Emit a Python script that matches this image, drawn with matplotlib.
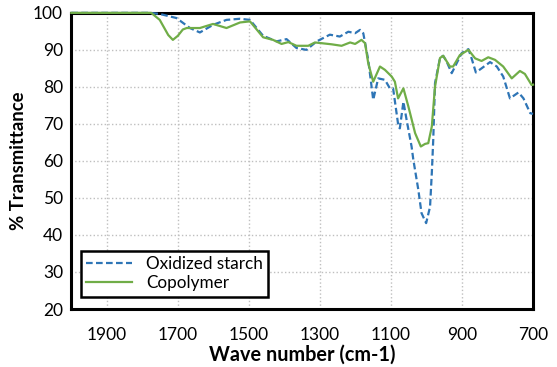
import matplotlib
matplotlib.use('Agg')
import matplotlib.pyplot as plt

plt.rcParams['font.family'] = ['Lato', 'DejaVu Sans']

# oxidized starch (blue dashed)
wn_ox = [2000, 1780, 1751, 1704, 1666, 1638, 1600, 1563, 1525, 1497, 1460, 1422, 1394,
         1366, 1338, 1309, 1272, 1244, 1220, 1201, 1187, 1178, 1164, 1150, 1136, 1117,
         1103, 1094, 1079, 1075, 1065, 1056, 1042, 1037, 1023, 1014, 1001, 990, 985, 981,
         976, 962, 953, 943, 929, 915, 901, 882, 873, 861, 845, 821, 802, 784, 765, 741,
         727, 708, 700]
tr_ox = [100, 100, 99.7, 98.6, 95.9, 94.7, 96.8, 98.1, 98.4, 98.1, 93.8, 92.3, 92.9,
         90.5, 90.0, 92.3, 94.1, 93.6, 94.9, 94.5, 95.4, 94.5, 87.3, 76.5, 82.3, 81.9,
         79.6, 79.6, 69.3, 68.8, 76.0, 71.1, 63.9, 60.3, 52.2, 45.9, 43.2, 47.6, 56.8, 65.7,
         81.0, 87.8, 88.4, 86.8, 83.7, 86.4, 89.1, 90.2, 87.7, 83.9, 85.0, 86.7, 85.5, 82.8,
         76.9, 78.5, 76.9, 72.9, 72.7]

# copolymer (green solid)
wn_co = [2000, 1775, 1751, 1727, 1714, 1700, 1686, 1675, 1638, 1601, 1563, 1525, 1497,
         1460, 1432, 1408, 1389, 1366, 1333, 1314, 1295, 1267, 1239, 1215, 1201, 1183,
         1173, 1164, 1150, 1131, 1117, 1098, 1089, 1080, 1065, 1051, 1032, 1016, 1004,
         995, 985, 976, 962, 953, 934, 925, 906, 882, 863, 845, 826, 807, 784, 760, 737,
         723, 704, 700]
tr_co = [100, 100, 98.1, 94.0, 92.7, 93.8, 95.5, 95.9, 95.9, 97.0, 95.9, 97.4, 97.7,
         93.4, 92.7, 91.6, 92.1, 91.1, 91.1, 92.0, 91.8, 91.5, 91.1, 92.0, 91.6, 92.7,
         91.8, 86.4, 81.4, 85.5, 84.6, 82.8, 81.4, 76.9, 79.6, 74.7, 67.5, 63.9, 64.6,
         64.8, 69.3, 80.1, 87.8, 88.4, 85.5, 85.5, 88.6, 90.0, 87.7, 87.0, 88.0, 87.3,
         85.5, 82.3, 84.3, 83.5, 80.5, 80.6]

fig = plt.figure(figsize=(5.57, 3.67), dpi=100)
ax = fig.add_axes([0.128, 0.158, 0.829, 0.807])

ax.plot(wn_ox, tr_ox, color='#2E75B6', lw=1.6, ls=(0, (3, 1.5)), label='Oxidized starch',
        clip_on=False, zorder=3)
ax.plot(wn_co, tr_co, color='#70AD47', lw=1.6, label='Copolymer', clip_on=False, zorder=4)

ax.set_xlim(2000, 700)
ax.set_ylim(20, 100)
ax.set_xticks([1900, 1700, 1500, 1300, 1100, 900, 700])
ax.set_yticks(range(20, 101, 10))
ax.grid(True, color='#BFBFBF', ls=':', lw=1)
ax.tick_params(length=0, labelsize=12.5)
ax.tick_params(axis='x', pad=13)
ax.tick_params(axis='y', pad=6)
for s in ax.spines.values():
    s.set_linewidth(2.2)
    s.set_color('black')

ax.set_xlabel('Wave number (cm-1)', fontsize=14.3, fontweight='bold', labelpad=1)
ax.set_ylabel('% Transmittance', fontsize=13.3, fontweight='bold', labelpad=4)

leg = ax.legend(loc='lower left', bbox_to_anchor=(0.021, 0.042), fontsize=12.3,
                fancybox=False, framealpha=1, edgecolor='black', handlelength=2.7,
                borderpad=0.3, labelspacing=0.2, borderaxespad=0)
leg.get_frame().set_linewidth(1.8)

fig.savefig('out.png', dpi=100)
